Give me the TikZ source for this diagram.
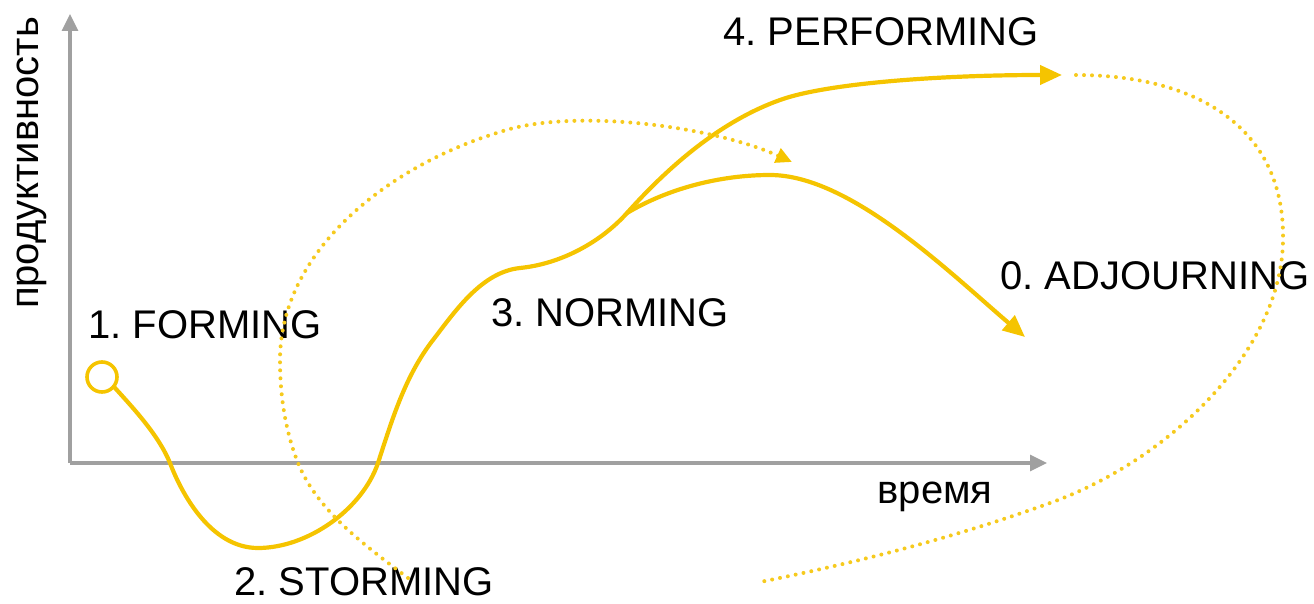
\documentclass[tikz,border=0pt]{standalone}
\usepackage{fontspec}
\setmainfont{Liberation Sans}
\usetikzlibrary{arrows.meta}
\definecolor{ylw}{RGB}{245,196,0}
\definecolor{ydot}{RGB}{246,202,30}
\definecolor{axgray}{RGB}{160,160,160}
\frenchspacing
\begin{document}
\begin{tikzpicture}[x=1pt,y=-1pt,
  axis/.style={draw=axgray,line width=3.2pt,-{Triangle[length=17pt,width=16pt]}},
  mainline/.style={draw=ylw,line width=4.2pt,line cap=round},
  mainarrow/.style={mainline,-{Triangle[length=22pt,width=19pt]}},
  dotline/.style={draw=ydot,line width=4pt,line cap=round,dash pattern=on 0pt off 8pt},
  lbl/.style={font=\fontsize{40}{42}\selectfont,text=black,inner sep=0pt}]
\useasboundingbox (0,0) rectangle (1314,604);
% axes
\coordinate (o) at (70,463);
\coordinate (ytop) at (70,14);
\coordinate (xend) at (1047,463);
\draw[axis] (o) -- (ytop);
\draw[axis] (o) -- (xend);
\node[lbl,rotate=90] (ylab) at (32,163) {продуктивность};
\node[lbl] (xlab) at (935,497) {время};
% labels
\node[lbl] (l1) at (205,325) {1. FORMING};
\node[lbl] (l2) at (364,582) {2. STORMING};
\node[lbl] (l3) at (610,313) {3. NORMING};
\node[lbl] (l4) at (881,32) {4. PERFORMING};
\node[lbl] (l0) at (1155,276) {0. ADJOURNING};
% start circle
\node[circle,draw=ylw,line width=3.6pt,minimum size=30pt,inner sep=0pt] (st) at (102,377) {};
% key points
\coordinate (fork) at (627,213);
\coordinate (perf) at (1062,75);
\coordinate (adj) at (1025,337);
\coordinate (dstart) at (408,578);
\coordinate (dtip) at (792,162);
\coordinate (d2start) at (1076,75);
\coordinate (d2end) at (760,582);
% main curve to performing
\draw[mainarrow] (st.-40) .. controls (135,410) and (159,436) .. (170,463)
  .. controls (181,492) and (210,548) .. (258,548)
  .. controls (307,548) and (362,510) .. (378,463)
  .. controls (392,420) and (405,376) .. (433,340)
  .. controls (456,310) and (482,272) .. (520,268)
  .. controls (560,264) and (600,243) .. (fork)
  .. controls (669,166) and (721,121) .. (780,100)
  .. controls (827,83) and (942,75) .. (perf);
% branch to adjourning
\draw[mainarrow] (fork) .. controls (669,188) and (721,175) .. (770,175)
  .. controls (850,175) and (949,272) .. (adj);
% dotted arcs
\draw[dotline,-{Triangle[length=16pt,width=15pt,color=ylw]}] (dstart)
  .. controls (366,546) and (318,512) .. (298,463)
  .. controls (285,430) and (280,395) .. (280,360)
  .. controls (280,250) and (390,165) .. (500,132)
  .. controls (570,108) and (710,125) .. (dtip);
\draw[dotline] (d2start) .. controls (1200,75) and (1285,130) .. (1283,240)
  .. controls (1282,350) and (1170,460) .. (1050,503)
  .. controls (956,537) and (860,562) .. (d2end);
\end{tikzpicture}
\end{document}
